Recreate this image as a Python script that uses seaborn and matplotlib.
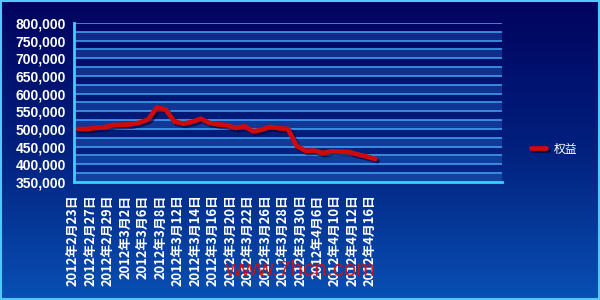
import numpy as np
import pandas as pd
import matplotlib
matplotlib.use("Agg")
import matplotlib.pyplot as plt
import matplotlib.patheffects as pe
from matplotlib.colors import LinearSegmentedColormap
import seaborn as sns

# ---- data ----
dates = ["2012年2月23日", "2012年2月24日", "2012年2月27日", "2012年2月28日", "2012年2月29日",
         "2012年3月1日", "2012年3月2日", "2012年3月5日", "2012年3月6日", "2012年3月7日",
         "2012年3月8日", "2012年3月9日", "2012年3月12日", "2012年3月13日", "2012年3月14日",
         "2012年3月15日", "2012年3月16日", "2012年3月19日", "2012年3月20日", "2012年3月21日",
         "2012年3月22日", "2012年3月23日", "2012年3月26日", "2012年3月27日", "2012年3月28日",
         "2012年3月29日", "2012年3月30日", "2012年4月5日", "2012年4月6日", "2012年4月9日",
         "2012年4月10日", "2012年4月11日", "2012年4月12日", "2012年4月13日", "2012年4月16日"]
equity = [500000, 500000, 503000, 505000, 511000, 512000, 513000, 518000, 527000, 561000,
          555000, 521000, 515000, 520000, 529000, 517000, 513000, 511000, 503000, 508000,
          493000, 498000, 506000, 502000, 500000, 452000, 438000, 439000, 432000, 437000,
          436000, 435000, 428000, 422000, 415000]
series_name = "权益"
y_ticks = [350000, 400000, 450000, 500000, 550000, 600000, 650000, 700000, 750000, 800000]
watermark = "www.7hcn.com"

df = pd.DataFrame({"idx": np.arange(len(dates)), "value": equity, "series": series_name})

sns.set_style("dark")
plt.rcParams["font.family"] = ["Liberation Sans", "Noto Sans CJK SC", "DejaVu Sans"]

fig = plt.figure(figsize=(6, 3), dpi=100)

# background gradient
bg = fig.add_axes([0, 0, 1, 1], zorder=0)
cmap = LinearSegmentedColormap.from_list("bg", ["#00035e", "#02207e", "#0850b4"])
grad = np.linspace(0, 1, 256).reshape(-1, 1)
bg.imshow(grad, aspect="auto", cmap=cmap, extent=[0, 1, 0, 1], origin="upper")
bg.set_axis_off()
bg.add_patch(plt.Rectangle((0.001, 0.003), 0.997, 0.993, fill=False,
                           edgecolor="#4fc8ff", lw=1.5, transform=bg.transAxes))

ax = fig.add_axes([74 / 600, 1 - 182 / 300, 428 / 600, 159 / 300], zorder=1)
ax.set_facecolor("none")

# alternating bands and grid
for lo in range(350000, 800000, 50000):
    ax.axhspan(lo, lo + 25000, color="#3a86e0", alpha=0.28, lw=0, zorder=0)
for v in range(375000, 800001, 25000):
    ax.axhline(v, color="#3f9cf0", lw=1.2, zorder=1)

sns.lineplot(data=df, x="idx", y="value", hue="series", palette=["#d00a0a"],
             lw=3.4, ax=ax, zorder=3, legend=True,
             path_effects=[pe.SimpleLineShadow(offset=(1.5, -1.5), shadow_color="#000030", alpha=0.6),
                           pe.Normal()])

ax.set_xlim(-0.5, 48.5)
ax.set_ylim(350000, 800000)
ax.set_yticks(y_ticks)
ax.set_yticklabels([f"{v:,}" for v in y_ticks], color="white", fontsize=10,
                   fontweight="bold", family=["Liberation Sans"])
ax.set_xticks(np.arange(-0.5, 48.6, 2))
xlabels = dates[::2] + [""] * (25 - len(dates[::2]))
ax.set_xticklabels(xlabels, rotation=90, color="white", fontsize=9.3, fontweight="bold",
                   family=["Noto Sans CJK SC", "DejaVu Sans"])
ax.tick_params(axis="both", colors="#3ad0ff", length=5, width=1.5, direction="out")
ax.tick_params(axis="y", pad=1, labelcolor="white")
ax.tick_params(axis="x", pad=4, labelcolor="white")
ax.set_xlabel("")
ax.set_ylabel("")
for s in ["top", "right"]:
    ax.spines[s].set_visible(False)
for s in ["left", "bottom"]:
    ax.spines[s].set_visible(True)
    ax.spines[s].set_color("#3ad0ff")
    ax.spines[s].set_linewidth(2)
ax.grid(False)

leg = ax.legend(loc="center left", bbox_to_anchor=(520 / 600, 1 - 149 / 300),
                bbox_transform=fig.transFigure, frameon=False, handlelength=1.3,
                handletextpad=0.7, prop={"family": ["Noto Sans CJK SC"], "size": 8.5})
for t in leg.get_texts():
    t.set_color("white")
leg.set_title(None)

fig.text(300 / 600, 1 - 270 / 300, watermark, color="#d01010", fontsize=16,
         ha="center", va="center", alpha=0.9, zorder=5, family=["Liberation Sans"])

fig.savefig("out.png", dpi=100)
